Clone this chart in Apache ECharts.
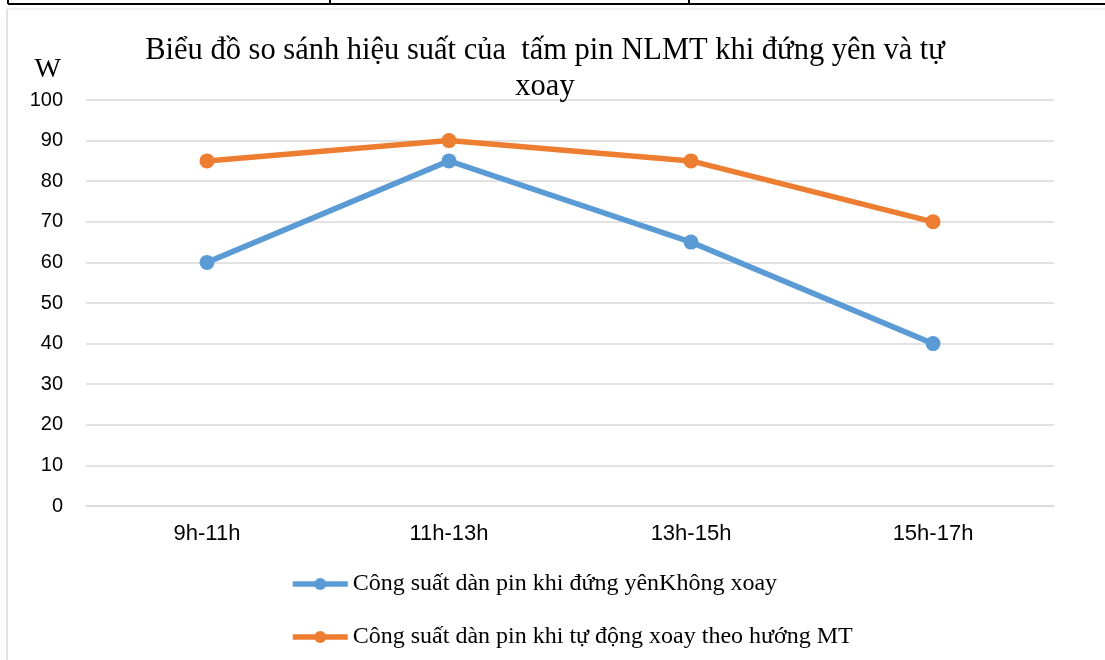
<!DOCTYPE html>
<html>
<head>
<meta charset="utf-8">
<script src="https://cdn.jsdelivr.net/npm/echarts@6/dist/echarts.min.js"></script>
<style>
  html, body { margin: 0; padding: 0; background: #fff; }
  #chart { width: 1105px; height: 660px; }
</style>
</head>
<body>
<div id="chart"></div>
<script>
var categories = ['9h-11h', '11h-13h', '13h-15h', '15h-17h'];
var staticValues = [60, 85, 65, 40];
var trackingValues = [85, 90, 85, 70];
var staticName = 'Công suất dàn pin khi đứng yênKhông xoay';
var trackingName = 'Công suất dàn pin khi tự động xoay theo hướng MT';

var chart = echarts.init(document.getElementById('chart'));

var option = {
    animation: false,
    backgroundColor: '#fff',
    title: {
        text: 'Biểu đồ so sánh hiệu suất của  tấm pin NLMT khi đứng yên và tự\nxoay',
        left: 540,
        top: 28,
        textAlign: 'center',
        textStyle: {
            fontFamily: 'Liberation Serif',
            fontSize: 30.5,
            fontWeight: 'normal',
            color: '#000',
            lineHeight: 36
        }
    },
    legend: {
        orient: 'vertical',
        left: 285,
        top: 567,
        itemGap: 29,
        itemWidth: 55,
        itemHeight: 15,
        lineStyle: { width: 5.5 },
        textStyle: {
            fontFamily: 'Liberation Serif',
            fontSize: 24,
            color: '#000'
        },
        data: [staticName, trackingName]
    },
    grid: {
        left: 86,
        right: 51,
        top: 100,
        bottom: 154,
        containLabel: false
    },
    xAxis: {
        type: 'category',
        data: categories,
        boundaryGap: true,
        axisLine: { lineStyle: { color: '#d9d9d9', width: 1.5 } },
        axisTick: { show: false },
        axisLabel: {
            fontFamily: 'Liberation Sans',
            fontSize: 22,
            color: '#000',
            margin: 17
        }
    },
    yAxis: {
        type: 'value',
        min: 0,
        max: 100,
        interval: 10,
        name: 'W',
        nameGap: 16,
        nameTextStyle: {
            fontFamily: 'Liberation Serif',
            fontSize: 28,
            color: '#000',
            align: 'right',
            padding: [0, 25, 0, 0]
        },
        axisLine: { show: false },
        axisTick: { show: false },
        splitLine: { lineStyle: { color: '#d9d9d9', width: 1.5 } },
        axisLabel: {
            fontFamily: 'Liberation Sans',
            fontSize: 20,
            color: '#000',
            margin: 23
        }
    },
    series: [
        {
            name: staticName,
            type: 'line',
            data: staticValues,
            symbol: 'circle',
            symbolSize: 15,
            lineStyle: { color: '#5B9BD5', width: 5.5 },
            itemStyle: { color: '#5B9BD5' }
        },
        {
            name: trackingName,
            type: 'line',
            data: trackingValues,
            symbol: 'circle',
            symbolSize: 15,
            lineStyle: { color: '#ED7D31', width: 5.5 },
            itemStyle: { color: '#ED7D31' }
        }
    ],
    graphic: [
        // table edge above the chart
        { type: 'line', shape: { x1: 8, y1: 4, x2: 1105, y2: 4 }, style: { stroke: '#000', lineWidth: 2 } },
        { type: 'line', shape: { x1: 8, y1: 0, x2: 8, y2: 4 }, style: { stroke: '#000', lineWidth: 2 } },
        { type: 'line', shape: { x1: 330, y1: 0, x2: 330, y2: 4 }, style: { stroke: '#000', lineWidth: 2 } },
        { type: 'line', shape: { x1: 689, y1: 0, x2: 689, y2: 4 }, style: { stroke: '#000', lineWidth: 2 } },
        // chart frame
        { type: 'line', shape: { x1: 7, y1: 9, x2: 1105, y2: 9 }, style: { stroke: '#e0e0e0', lineWidth: 1 } },
        { type: 'line', shape: { x1: 7, y1: 9, x2: 7, y2: 660 }, style: { stroke: '#d9d9d9', lineWidth: 1.5 } }
    ]
};

chart.setOption(option);
</script>
</body>
</html>
